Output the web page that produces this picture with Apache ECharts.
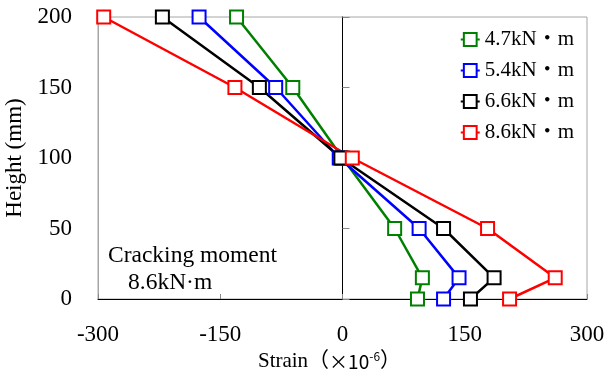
<!DOCTYPE html>
<html>
<head>
<meta charset="utf-8">
<script src="https://cdn.jsdelivr.net/npm/echarts@6/dist/echarts.min.js"></script>
<style>
  html, body { margin: 0; padding: 0; background: #fff; }
  #main { width: 613px; height: 369px; }
</style>
</head>
<body>
<div id="main"></div>
<script>
  // heights of the gauges (mm)
  var heights = [200, 150, 100, 50, 15, 0];
  var names = ['4.7kN・m', '5.4kN・m', '6.6kN・m', '8.6kN・m'];
  var colors = ['#008000', '#0000ff', '#000000', '#ff0000'];
  // strain x10^-6 for each moment
  var strain47 = [-130, -61, 0, 64, 98, 92];
  var strain54 = [-176, -82, -4, 94, 143, 124];
  var strain66 = [-221, -102, -2, 124, 186, 157];
  var strain86 = [-293, -132, 12, 178, 261, 205];
  var xTicks = [-300, -150, 0, 150, 300];

  var font = "'Liberation Serif', 'Times New Roman', 'Noto Sans CJK JP', serif";
  var sans = "'Noto Sans CJK JP', 'DejaVu Sans', sans-serif";
  var myChart = echarts.init(document.getElementById('main'));

  function mkSeries(i, vals) {
    return {
      name: names[i],
      type: 'line',
      symbol: 'emptyRect',
      symbolSize: 13,
      color: colors[i],
      lineStyle: { width: 2.5 },
      itemStyle: { borderWidth: 2.5 },
      data: vals.map(function (v, k) { return [v, heights[k]]; })
    };
  }

  var option = {
    animation: false,
    grid: {
      left: 98, right: 26, top: 17, bottom: 70,
      outerBoundsMode: 'none',
      containLabel: false,
      show: true,
      borderColor: '#a6a6a6',
      borderWidth: 1
    },
    legend: {
      orient: 'vertical',
      right: 34,
      top: 24,
      itemWidth: 19,
      itemHeight: 16,
      itemGap: 10,
      textStyle: { fontFamily: font, fontSize: 21, color: '#000' },
      data: names
    },
    xAxis: {
      type: 'value',
      min: xTicks[0],
      max: xTicks[xTicks.length - 1],
      interval: 150,
      axisLine: { show: true, onZero: false, lineStyle: { color: '#000', width: 1 } },
      axisTick: { show: true, inside: true, length: 5, lineStyle: { color: '#888' } },
      splitLine: { show: false },
      axisLabel: { fontFamily: font, fontSize: 23, color: '#000', margin: 24 },
      name: 'Strain（{s|×10}{sup|-6}）',
      nameLocation: 'middle',
      nameGap: 48,
      nameTextStyle: {
        fontFamily: font, fontSize: 21, color: '#000',
        padding: [0, 26, 0, 0],
        rich: {
          s: { fontFamily: sans, fontSize: 19, color: '#000' },
          sup: { fontFamily: sans, fontSize: 12, color: '#000', padding: [0, 0, 10, 0] }
        }
      }
    },
    yAxis: [
      {
        type: 'value',
        min: 0, max: 200, interval: 50,
        axisLine: { show: true, onZero: false, lineStyle: { color: '#a6a6a6' } },
        axisTick: { show: false },
        splitLine: { show: false },
        axisLabel: { fontFamily: font, fontSize: 23, color: '#000', margin: 26 },
        name: 'Height (mm)',
        nameLocation: 'middle',
        nameGap: 65,
        nameRotate: 90,
        nameTextStyle: { fontFamily: font, fontSize: 23, color: '#000' }
      },
      {
        type: 'value',
        position: 'left',
        min: 0, max: 200, interval: 50,
        axisLine: { show: true, onZero: true, lineStyle: { color: '#000' } },
        axisTick: { show: true, inside: true, length: 7, lineStyle: { color: '#888' } },
        axisLabel: { show: false },
        splitLine: { show: false }
      }
    ],
    graphic: [
      { type: 'text', left: 108, top: 244, style: { text: 'Cracking moment', font: '23.5px ' + font, fill: '#000' } },
      { type: 'text', left: 128, top: 271, style: { text: '8.6kN·m', font: '23.5px ' + font, fill: '#000' } }
    ],
    series: [
      mkSeries(0, strain47),
      mkSeries(1, strain54),
      mkSeries(2, strain66),
      mkSeries(3, strain86)
    ]
  };

  myChart.setOption(option);
</script>
</body>
</html>
